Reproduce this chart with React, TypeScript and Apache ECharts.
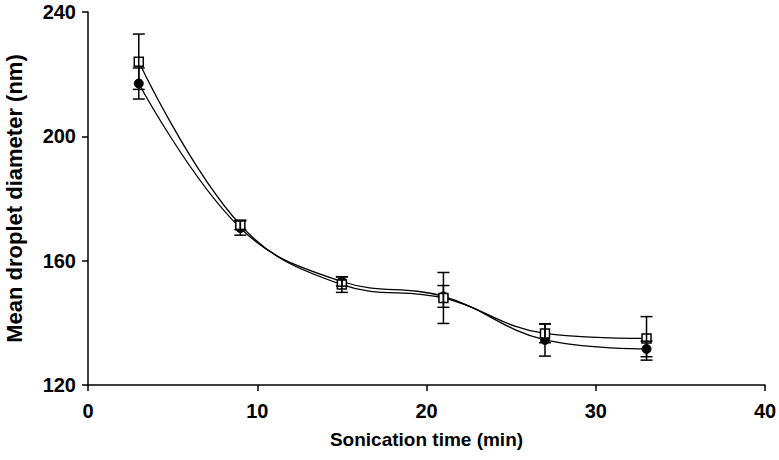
import React, { useEffect, useRef } from "react";
import * as echarts from "echarts";

const times = [3, 9, 15, 21, 27, 33];
const squareMean = [224.0, 171.5, 152.3, 148.0, 136.6, 135.0];
const squareErr = [8.9, 1.5, 2.5, 8.2, 3.0, 7.0];
const circleMean = [217.0, 170.5, 153.3, 148.5, 134.5, 131.6];
const circleErr = [5.0, 2.3, 1.5, 3.5, 5.2, 2.5];
const xTicks = [0, 40, 10];
const yTicks = [120, 240, 40];

const font = "'Liberation Sans', Arial, sans-serif";

function errData(mean: number[], err: number[]) {
  return times.map((t, i) => [t, mean[i] - err[i], mean[i] + err[i]]);
}

function errRender(params: any, api: any) {
  const x = api.value(0);
  const lo = api.coord([x, api.value(1)]);
  const hi = api.coord([x, api.value(2)]);
  const w = 6;
  const style = { stroke: "#000", lineWidth: 1.5 };
  return {
    type: "group",
    children: [
      { type: "line", shape: { x1: lo[0], y1: lo[1], x2: hi[0], y2: hi[1] }, style },
      { type: "line", shape: { x1: lo[0] - w, y1: lo[1], x2: lo[0] + w, y2: lo[1] }, style },
      { type: "line", shape: { x1: hi[0] - w, y1: hi[1], x2: hi[0] + w, y2: hi[1] }, style },
    ],
  };
}

export default function App() {
  const ref = useRef<HTMLDivElement>(null);
  useEffect(() => {
    const chart = echarts.init(ref.current!, null, { renderer: "svg" });
    chart.setOption({
      animation: false,
      backgroundColor: "#fff",
      grid: { left: 88, right: 14, top: 12, bottom: 75, containLabel: false, outerBoundsMode: "none" },
      xAxis: {
        type: "value",
        min: xTicks[0],
        max: xTicks[1],
        interval: xTicks[2],
        name: "Sonication time (min)",
        nameLocation: "middle",
        nameGap: 45,
        nameTextStyle: { fontFamily: font, fontWeight: "bold", fontSize: 19, color: "#000" },
        axisLine: { lineStyle: { color: "#000", width: 1.5 } },
        axisTick: { show: true, length: 6, lineStyle: { color: "#000", width: 1.5 } },
        axisLabel: { fontFamily: font, fontWeight: "bold", fontSize: 20, color: "#000", margin: 16 },
        splitLine: { show: false },
      },
      yAxis: {
        type: "value",
        min: yTicks[0],
        max: yTicks[1],
        interval: yTicks[2],
        name: "Mean droplet diameter (nm)",
        nameLocation: "middle",
        nameGap: 63,
        nameTextStyle: { fontFamily: font, fontWeight: "bold", fontSize: 22, color: "#000" },
        axisLine: { show: true, lineStyle: { color: "#000", width: 1.5 } },
        axisTick: { show: true, length: 6, lineStyle: { color: "#000", width: 1.5 } },
        axisLabel: { fontFamily: font, fontWeight: "bold", fontSize: 20, color: "#000", margin: 12 },
        splitLine: { show: false },
      },
      series: [
        {
          type: "line",
          data: times.map((t, i) => [t, circleMean[i]]),
          smooth: 0.4,
          symbol: "circle",
          symbolSize: 9,
          lineStyle: { color: "#000", width: 1.3 },
          itemStyle: { color: "#000", borderColor: "#000" },
          z: 2,
        },
        {
          type: "line",
          data: times.map((t, i) => [t, squareMean[i]]),
          smooth: 0.4,
          symbol: "rect",
          symbolSize: 9,
          lineStyle: { color: "#000", width: 1.3 },
          itemStyle: { color: "#fff", borderColor: "#000", borderWidth: 1.5 },
          z: 3,
        },
        {
          type: "custom",
          data: errData(circleMean, circleErr),
          renderItem: errRender,
          z: 4,
        },
        {
          type: "custom",
          data: errData(squareMean, squareErr),
          renderItem: errRender,
          z: 4,
        },
      ],
    });
    return () => chart.dispose();
  }, []);
  return (
    <div
      ref={ref}
      style={{ position: "absolute", left: 0, top: 0, width: 779, height: 460 }}
    />
  );
}
